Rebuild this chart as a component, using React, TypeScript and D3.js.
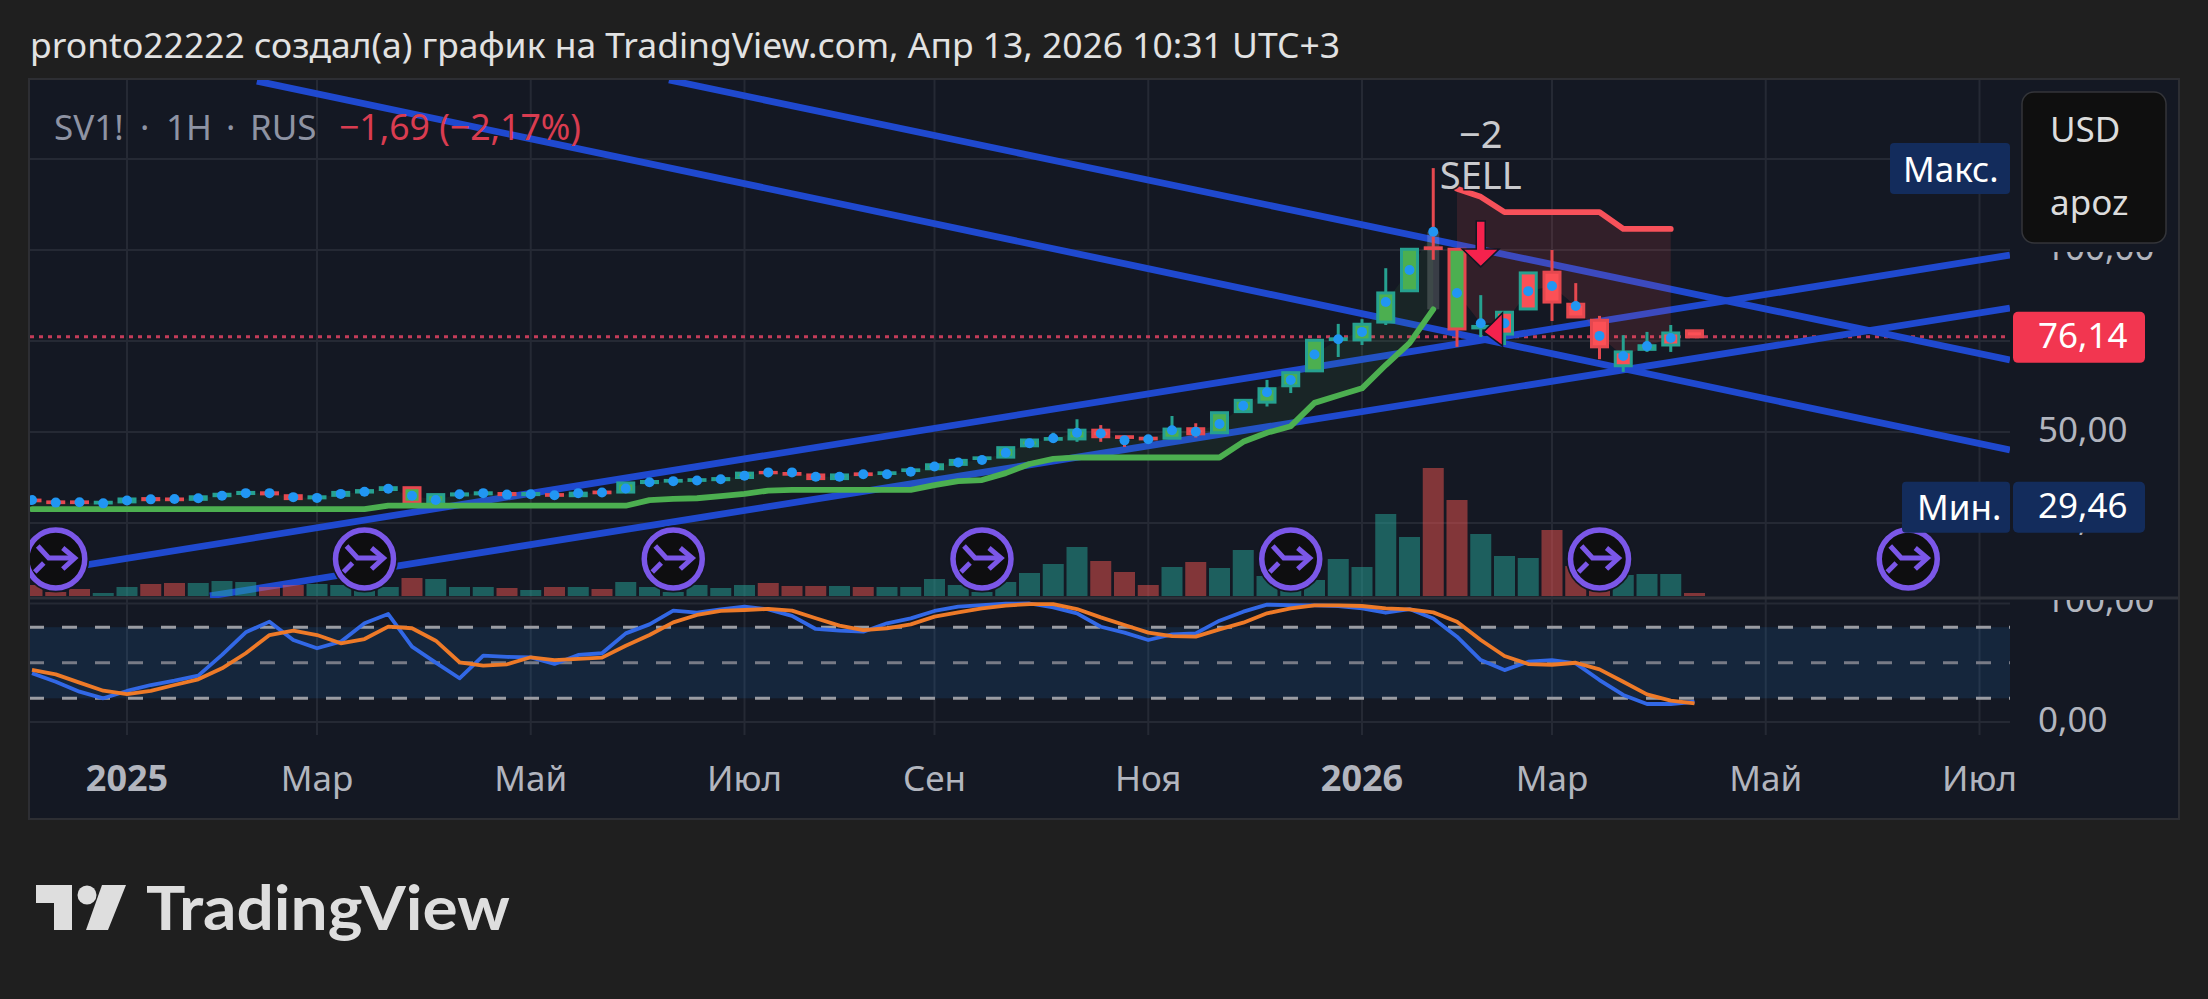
import React, { useMemo } from "react";
import * as d3 from "d3";

// ---------- weekly candles, prices in USD ----------
const opens = [31.3,30.8,30.8,30.5,30.8,31.7,31.6,31.5,32.5,33.1,33.3,32.5,31.9,32.6,33.5,34.2,34.7,30.7,32.7,33.0,33.1,32.8,32.8,32.5,33.5,33.5,36.1,36.5,36.7,36.9,37.5,38.9,38.6,38.2,37.2,38.5,38.6,39.4,39.9,41.1,42.7,43.1,46.2,48.0,48.1,50.5,48.7,48.3,48.3,50.9,49.8,55.6,58.2,62.7,66.8,75.4,75.3,80.2,88.8,100.6,100.2,78.6,76.9,83.8,93.9,85.1,80.7,68.2,72.7,73.9,77.8];
const closes = [31.1,30.6,30.6,30.7,31.6,31.4,31.4,32.2,32.9,33.4,33.0,31.7,32.2,33.4,33.9,34.7,30.7,32.8,33.0,33.3,32.8,33.1,32.6,33.2,33.3,36.0,36.4,36.7,36.9,37.2,38.7,38.8,38.4,37.2,38.2,38.3,38.8,39.6,41.0,42.2,42.9,45.7,47.8,48.2,50.5,48.7,48.5,48.1,50.8,49.5,55.3,58.7,61.9,66.3,75.2,75.6,79.6,88.2,100.2,100.4,78.3,79.0,82.9,93.7,85.7,81.6,73.4,72.0,73.7,77.2,76.14];
const highs = [31.4,30.8,30.8,30.7,31.6,31.7,31.6,32.2,32.9,33.4,33.3,32.5,32.2,33.4,33.9,34.7,34.9,32.8,33.0,33.3,33.1,33.1,32.8,33.2,33.5,36.0,36.4,36.7,36.9,37.2,38.7,38.9,38.6,38.2,38.2,38.5,38.8,39.6,41.0,42.2,42.9,45.7,47.8,49.8,53.5,51.9,48.7,48.3,54.4,52.4,55.3,58.7,64.3,66.3,75.2,79.7,81.0,95.0,100.2,122.5,100.2,87.6,82.9,93.9,100.0,90.9,81.9,76.6,77.5,79.4,77.8];
const lows = [31.1,30.6,30.6,30.5,30.8,31.4,31.4,31.5,32.5,33.1,33.0,31.7,31.9,32.6,33.5,34.2,30.5,30.7,32.7,33.0,32.8,32.8,32.6,32.5,33.3,33.5,36.1,36.5,36.7,36.9,37.5,38.8,38.4,37.2,37.2,38.3,38.6,39.4,39.9,41.1,42.7,43.1,46.2,47.0,47.3,47.3,45.9,48.1,48.3,48.5,49.8,55.6,57.0,60.7,66.8,70.6,73.9,79.4,88.8,97.3,73.4,76.1,73.9,83.6,80.5,81.6,70.0,66.5,72.0,72.0,75.8];
const midDots = [31.3,30.6,30.7,30.4,31.2,31.5,31.6,31.8,32.5,33.2,33.2,32.1,31.9,33.0,33.6,34.4,32.5,31.3,32.9,33.2,32.8,32.9,32.6,33.2,33.4,34.5,36.2,36.5,36.7,37.0,38.0,38.9,38.9,37.7,37.7,38.4,38.4,39.1,40.5,41.6,42.3,44.3,46.9,48.3,49.8,49.6,47.7,48.0,50.5,50.1,52.2,57.2,60.9,64.3,71.3,75.5,77.5,85.7,94.5,105.0,88.2,79.9,79.9,88.7,90.1,84.6,76.4,70.9,73.6,75.8];
const volumes = [11,4,7,3,9,12,13,13,15,14,9,11,12,11,6,9,18,17,9,9,8,6,9,9,7,14,9,4,11,8,11,13,10,10,10,9,9,9,17,11,4,14,23,32,49,35,24,11,29,34,28,46,20,8,16,37,29,82,59,128,96,62,40,38,66,30,6,21,22,22,3];
const greenFillDown = [16, 60];
const redFillUp = [62, 63, 67, 69];

// ---------- trend stop ----------
const longStop = [28.8,28.8,28.8,28.8,28.8,28.8,28.8,28.8,28.8,28.8,28.8,28.8,28.8,28.8,28.8,29.75,29.75,29.75,29.75,29.75,29.75,29.75,29.75,29.75,29.75,29.75,31.3,31.6,31.8,32.4,33.0,33.9,34.1,34.1,34.1,34.1,34.1,34.1,35.4,36.5,36.8,38.7,41.2,42.6,43.0,43.0,43.0,43.0,43.0,43.0,43.0,47.3,49.8,51.6,58.0,60.0,62.0,68.4,74.4,83.7];
const shortStop = [116.8,114.6,110.4,110.4,110.4,110.4,110.4,105.8,105.8,105.8];
const shortStart = 60;

// ---------- trend lines: bar index / price ----------
const trendLines: [number, number, number, number][] = [
  [26.82, 146.7, 83.28, 69.8],
  [9.47, 146.4, 83.28, 45.05],
  [-0.08, 11.0, 83.28, 98.6],
  [7.49, 4.95, 83.28, 84.07],
];

// ---------- stochastic ----------
const stochK = [41.1,34.0,25.6,20.0,26.2,31.2,34.9,39.1,56.6,75.7,84.7,69.2,62.2,67.8,83.3,91.1,63.6,50.1,36.9,56.0,54.9,54.6,49.0,56.6,58.0,74.8,82.4,94.0,92.3,95.1,97.3,95.1,89.5,78.5,77.1,76.2,83.3,87.5,93.7,97.3,98.7,99.8,100.0,96.7,91.7,80.4,75.4,69.2,74.0,74.8,85.5,93.1,99.0,98.7,98.4,97.9,95.9,92.2,95.3,87.4,72.0,52.3,43.8,50.9,52.3,49.5,35.4,22.8,15.2,15.2,17.1];
const stochD = [43.9,40.2,33.2,26.4,23.6,26.2,31.2,36.0,45.3,58.0,73.4,77.1,73.4,66.4,70.0,80.5,79.1,68.6,50.4,47.5,48.7,54.6,52.3,53.2,54.3,64.4,73.4,84.1,90.3,93.7,94.5,95.4,94.0,87.5,81.3,77.6,79.1,82.4,88.9,92.6,95.9,98.2,99.5,99.5,95.3,88.3,81.8,75.4,72.5,72.0,78.2,83.8,91.7,95.9,98.4,98.4,97.9,95.9,95.0,92.5,84.6,69.2,55.7,48.9,48.3,50.0,44.4,34.0,23.3,18.0,15.7];
const stochLevels = [80, 50, 20];

// ---------- axes ----------
const monthBars = [4, 12, 21, 30, 38, 47, 56, 64, 73, 82];
const monthLabels = ["2025", "Мар", "Май", "Июл", "Сен", "Ноя", "2026", "Мар", "Май", "Июл"];
const boldMonths = ["2025", "2026"];
const priceGrid = [25, 50, 75, 100, 125];
const stochGrid = [0, 100];
const eventBars = [1, 14, 27, 40, 53, 66, 79];
const lastPrice = 76.14;
const minPrice = 29.46;
const maxPrice = 122.25;

const FONT = '"Noto Sans", sans-serif';
const PANEL = { l: 30, r: 2178, t: 80, b: 818 };
const CHART_R = 2010;
const MAIN_B = 598;
const BG = "#141823";

export default function App() {
  const x = useMemo(() => d3.scaleLinear().domain([0, 82]).range([32, 1979.5]), []);
  const y = useMemo(() => d3.scaleLinear().domain([50, 100]).range([432, 250]), []);
  const ys = useMemo(() => d3.scaleLinear().domain([0, 100]).range([722, 603.5]), []);
  const yv = useMemo(() => d3.scaleLinear().domain([0, 130]).range([596, 466]), []);

  const longLine = d3.line<number>().x((_, i) => x(i)).y((d) => y(d));
  const shortLine = d3.line<number>().x((_, i) => x(i + shortStart)).y((d) => y(d));
  const longArea = d3.area<number>().x((_, i) => x(i)).y0((d) => y(d)).y1((_, i) => y(midDots[i]));
  const shortArea = d3.area<number>().x((_, i) => x(i + shortStart)).y0((d) => y(d)).y1((_, i) => y(midDots[i + shortStart]));
  const sLine = d3.line<number>().x((_, i) => x(i)).y((d) => ys(d));

  const UP = "#26a190", DOWN = "#e5484f", FILL_UP = "#4caf50", FILL_DOWN = "#fb5056";
  const BW = 16;

  return (
    <svg width={2208} height={999} style={{ position: "absolute", left: 0, top: 0, display: "block" }} fontFamily={FONT}>
      <defs>
        <clipPath id="main"><rect x={PANEL.l} y={PANEL.t} width={CHART_R - PANEL.l} height={MAIN_B - PANEL.t} /></clipPath>
        <clipPath id="stoch"><rect x={PANEL.l} y={MAIN_B} width={CHART_R - PANEL.l} height={140} /></clipPath>
        <clipPath id="axisLow"><rect x={CHART_R} y={600} width={168} height={140} /></clipPath>
      </defs>
      <rect width={2208} height={999} fill="#1f1f1f" />
      <rect x={PANEL.l - 1} y={PANEL.t - 1} width={PANEL.r - PANEL.l + 2} height={PANEL.b - PANEL.t + 2} fill={BG} stroke="#2d2e33" strokeWidth={2} />

      <text x={30} y={58} fontSize={35} fill="#e2e2e2" textLength={1310} lengthAdjust="spacingAndGlyphs">
        pronto22222 создал(а) график на TradingView.com, Апр 13, 2026 10:31 UTC+3
      </text>

      {/* grid */}
      <g stroke="#252934" strokeWidth={2}>
        {monthBars.map((b, i) => <line key={i} x1={x(b)} x2={x(b)} y1={PANEL.t} y2={735} />)}
        {priceGrid.map((p) => <line key={p} x1={PANEL.l} x2={CHART_R} y1={y(p)} y2={y(p)} />)}
        {stochGrid.map((p) => <line key={p} x1={PANEL.l} x2={CHART_R} y1={ys(p)} y2={ys(p)} />)}
      </g>
      <line x1={PANEL.l} x2={PANEL.r} y1={MAIN_B} y2={MAIN_B} stroke="#2d3039" strokeWidth={3} />

      {/* stochastic pane */}
      <rect x={PANEL.l} y={ys(80)} width={CHART_R - PANEL.l} height={ys(20) - ys(80)} fill="#1e88e5" fillOpacity={0.13} />
      {stochLevels.map((l) => (
        <line key={l} x1={PANEL.l} x2={CHART_R} y1={ys(l)} y2={ys(l)} stroke={l === 50 ? "#787b86" : "#9a9ca3"} strokeWidth={3} strokeDasharray="15 18" strokeDashoffset={1} />
      ))}
      <g clipPath="url(#stoch)" fill="none" strokeLinejoin="round">
        <path d={sLine(stochK) || ""} stroke="#3268e6" strokeWidth={3.8} />
        <path d={sLine(stochD) || ""} stroke="#ee7a28" strokeWidth={3.8} />
      </g>

      {/* main pane */}
      <g clipPath="url(#main)">
        <line x1={PANEL.l} x2={CHART_R} y1={y(lastPrice)} y2={y(lastPrice)} stroke="#c43c59" strokeWidth={3} strokeDasharray="4 5" />
        {trendLines.map((l, i) => (
          <line key={i} x1={x(l[0])} y1={y(l[1])} x2={x(l[2])} y2={y(l[3])} stroke="#1f49cf" strokeWidth={6.8} />
        ))}
        {volumes.map((v, i) => (
          <rect key={i} x={x(i) - 10.5} width={21} y={yv(v)} height={yv(0) - yv(v)}
            fill={closes[i] >= opens[i] ? "#26a69a" : "#ef5350"} fillOpacity={0.5} />
        ))}
        <path d={longArea(longStop) || ""} fill="#4caf50" fillOpacity={0.09} />
        <path d={shortArea(shortStop) || ""} fill="#ff5252" fillOpacity={0.13} />
        <rect x={x(59) - 6} width={12} y={y(midDots[59])} height={y(longStop[59]) - y(midDots[59])} fill="#ffffff" fillOpacity={0.16} />

        {opens.map((o, i) => {
          const c = closes[i];
          const up = c >= o;
          const stroke = up ? UP : DOWN;
          let fill = up ? FILL_UP : FILL_DOWN;
          if (greenFillDown.includes(i)) fill = FILL_UP;
          if (redFillUp.includes(i)) fill = FILL_DOWN;
          const top = y(Math.max(o, c));
          const bot = y(Math.min(o, c));
          return (
            <g key={i}>
              <line x1={x(i)} x2={x(i)} y1={y(highs[i])} y2={y(lows[i])} stroke={stroke} strokeWidth={3} />
              <rect x={x(i) - BW / 2} width={BW} y={top} height={bot - top} fill={fill} stroke={stroke} strokeWidth={3} />
            </g>
          );
        })}

        <path d={longLine(longStop) || ""} fill="none" stroke="#4caf50" strokeWidth={5.8} strokeLinecap="round" strokeLinejoin="round" />
        <path d={shortLine(shortStop) || ""} fill="none" stroke="#f8515a" strokeWidth={5.8} strokeLinecap="round" strokeLinejoin="round" />

        {midDots.map((d, i) => <circle key={i} cx={x(i)} cy={y(d)} r={5} fill="#2196f3" />)}

        {/* sell signal */}
        <g fill="#f5224d" stroke="#131722" strokeWidth={1.5} strokeLinejoin="miter">
          <path d={`M${x(61) - 4.5},${y(108)} h9 v28 h14 l-18.5,18 l-18.5,-18 h14 z`} />
          <path d={`M${x(62) - 21},${y(77.5)} l19,-19 v33 z`} />
        </g>
        <g textAnchor="middle" fontSize={38} fill="#c9cace" stroke="#131722" strokeWidth={3} paintOrder="stroke">
          <text x={x(61)} y={148}>−2</text>
          <text x={x(61)} y={189}>SELL</text>
        </g>

        {/* legend */}
        <g fontSize={35}>
          <text y={140} fill="#8e93a3">
            <tspan x={54}>SV1!</tspan>
            <tspan x={140}>·</tspan>
            <tspan x={166}>1H</tspan>
            <tspan x={226}>·</tspan>
            <tspan x={250}>RUS</tspan>
          </text>
          <text x={339} y={140} fontSize={35.6} fill="#d93c50">−1,69 (−2,17%)</text>
        </g>

        {/* event markers */}
        {eventBars.map((b) => (
          <g key={b} transform={`translate(${x(b)},559)`}>
            <circle r={33.5} fill="#131722" />
            <circle r={29} fill="#0e0e10" stroke="#7b57e8" strokeWidth={5.5} />
            <g fill="none" stroke="#7b57e8" strokeWidth={5}>
              <path d="M-18,-13 L-7,-1 H18" />
              <path d="M7,-11 L19,-1 L7,10" />
              <path d="M-21,13 L-12,4" />
            </g>
          </g>
        ))}
      </g>

      {/* price axis */}
      <g fontSize={35} fill="#b2b5be">
        <text x={2045} y={260}>100,00</text>
        <text x={2038} y={y(50) + 10}>50,00</text>
        <text x={2038} y={531}>25,00</text>
        <text x={2038} y={ys(0) + 10}>0,00</text>
        <text x={2045} y={612} clipPath="url(#axisLow)">100,00</text>
      </g>

      {/* last price */}
      <rect x={2013} y={y(lastPrice) - 25} width={132} height={51} rx={5} fill="#f23650" />
      <text x={2038} y={y(lastPrice) + 11} fontSize={35} fill="#ffffff">76,14</text>

      {/* min / max */}
      <rect x={1890} y={y(maxPrice) - 26} width={120} height={51} rx={4} fill="#132c5c" />
      <text x={1903} y={y(maxPrice) + 13} fontSize={35} fill="#ffffff">Макс.</text>
      <rect x={1902} y={y(minPrice) - 25} width={108} height={51} rx={4} fill="#132c5c" />
      <text x={1917} y={y(minPrice) + 13} fontSize={35} fill="#ffffff">Мин.</text>
      <rect x={2013} y={y(minPrice) - 25} width={132} height={51} rx={5} fill="#132c5c" />
      <text x={2038} y={y(minPrice) + 11} fontSize={35} fill="#ffffff">29,46</text>

      {/* currency box */}
      <rect x={2016} y={236} width={156} height={16} fill={BG} />
      <rect x={2022} y={92} width={144} height={151} rx={12} fill="#0f0f0f" stroke="#34353a" strokeWidth={1.5} />
      <text x={2050} y={142} fontSize={35} fill="#dcdcdc">USD</text>
      <text x={2050} y={215} fontSize={35} fill="#dcdcdc">apoz</text>

      {/* time axis */}
      <g textAnchor="middle" fontSize={35} fill="#b2b5be">
        {monthBars.map((b, i) => (
          <text key={i} x={x(b)} y={791} fontWeight={boldMonths.includes(monthLabels[i]) ? 700 : 400} fontSize={boldMonths.includes(monthLabels[i]) ? 36 : 35}>{monthLabels[i]}</text>
        ))}
      </g>

      {/* logo */}
      <g fill="#dedede">
        <path d="M36,885 H72 V930 H54 V903 H36 Z" />
        <circle cx={87} cy={895} r={9.5} />
        <path d="M102,885 H126 L108,930 H86 Z" />
        <text x={146} y={930} fontSize={62} fontWeight={700} fontFamily='"Lato", sans-serif' textLength={364} lengthAdjust="spacingAndGlyphs">TradingView</text>
      </g>
    </svg>
  );
}
